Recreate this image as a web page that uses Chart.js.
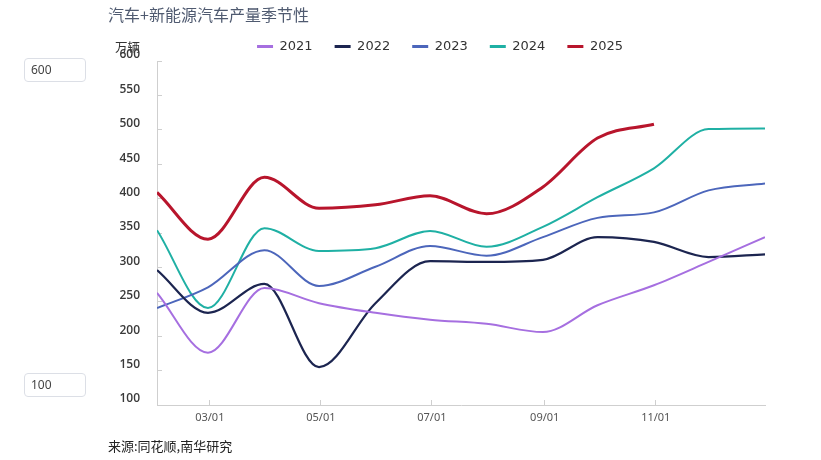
<!DOCTYPE html>
<html>
<head>
<meta charset="utf-8">
<script src="https://cdn.jsdelivr.net/npm/chart.js@4"></script>
<style>
  html, body { margin: 0; padding: 0; background: #fff; }
  #wrap { position: relative; width: 821px; height: 460px; overflow: hidden; }
  #c { position: absolute; left: 0; top: 0; }
  .title { position: absolute; left: 108px; top: 2px; font: 16px "Noto Sans CJK SC"; color: #4f5a70; white-space: nowrap; }
  .unit { position: absolute; left: 115px; top: 37px; font: 12.5px "Noto Sans CJK SC"; color: #333; white-space: nowrap; }
  .src { position: absolute; left: 108px; top: 436px; font: 13px "Noto Sans CJK SC"; color: #222; white-space: nowrap; }
  .inp { position: absolute; left: 24px; width: 62px; height: 24px; box-sizing: border-box; border: 1px solid #dcdfe6; border-radius: 4px; font: 12px "Noto Sans"; color: #444; line-height: 22px; padding-left: 6px; }
</style>
</head>
<body>
<div id="wrap">
  <canvas id="c" width="821" height="460"></canvas>
  <div class="title">汽车+新能源汽车产量季节性</div>
  <div class="unit">万辆</div>
  <div class="inp" style="top:58px">600</div>
  <div class="inp" style="top:373px">100</div>
  <div class="src">来源:同花顺,南华研究</div>
</div>
<script>
// ---- data ----
const categories = ['01/31','02/28','03/31','04/30','05/31','06/30','07/31','08/31','09/30','10/31','11/30','12/31'];
const xTickLabels = ['03/01','05/01','07/01','09/01','11/01'];
const seriesNames = ['2021','2022','2023','2024','2025'];
const v2021 = [263, 176, 270, 248, 234, 224, 218, 206, 245, 274, 308, 344];
const v2022 = [296, 234, 276, 155, 248, 309, 308, 311, 344, 337, 315, 319];
const v2023 = [241, 271, 325, 273, 301, 331, 317, 344, 372, 380, 412, 422];
const v2024 = [354, 241, 357, 324, 328, 353, 330, 359, 402, 444, 501, 502];
const v2025 = [409, 341, 431, 386, 391, 404, 378, 417, 488, 508];
const yMin = 100, yMax = 600, yStep = 50;

// ---- helpers ----
const monthLengths = [31,28,31,30,31,30,31,31,30,31,30,31];
const cumDays = monthLengths.map((_, i) => monthLengths.slice(0, i).reduce((a, b) => a + b, 0));
function dayOfYear(s) { const [m, d] = s.split('/').map(Number); return cumDays[m - 1] + d; }

const styles = {
  '2021': { color: '#a66fe0', width: 2 },
  '2022': { color: '#1c2550', width: 2.2 },
  '2023': { color: '#4c66bb', width: 2 },
  '2024': { color: '#1fb0a4', width: 2 },
  '2025': { color: '#b8152c', width: 3 }
};
const allValues = [v2021, v2022, v2023, v2024, v2025];

const datasets = seriesNames.map((name, i) => ({
  label: name,
  data: allValues[i].map((v, j) => ({ x: dayOfYear(categories[j]), y: v })),
  borderColor: styles[name].color,
  backgroundColor: styles[name].color,
  borderWidth: styles[name].width,
  pointRadius: 0,
  pointHoverRadius: 0,
  cubicInterpolationMode: 'monotone',
  fill: false
}));

const legendFix = {
  id: 'legendFix',
  beforeInit(chart) {
    const lg = chart.legend;
    if (!lg || lg._patched) return;
    const origFit = lg.fit;
    lg.fit = function () { origFit.call(this); this.height = 43; };
    const origDraw = lg.draw;
    lg.draw = function () {
      const ctx = this.ctx;
      ctx.save();
      ctx.translate(4, 0);
      origDraw.call(this);
      ctx.restore();
    };
    lg._patched = true;
  }
};

new Chart(document.getElementById('c'), {
  type: 'line',
  data: { datasets },
  plugins: [legendFix],
  options: {
    responsive: false,
    animation: false,
    layout: { padding: { left: 107, right: 56, top: 18, bottom: 25 } },
    plugins: {
      tooltip: { enabled: false },
      legend: {
        position: 'top',
        align: 'center',
        labels: {
          boxWidth: 16,
          boxHeight: 3,
          padding: 22,
          color: '#333',
          font: { family: 'DejaVu Sans', size: 13 },
          generateLabels: (chart) => Chart.defaults.plugins.legend.labels.generateLabels(chart)
            .map(l => Object.assign({}, l, { lineWidth: 0, fillStyle: l.strokeStyle }))
        }
      }
    },
    scales: {
      x: {
        type: 'linear',
        min: dayOfYear(categories[0]),
        max: dayOfYear(categories[categories.length - 1]),
        afterBuildTicks: (s) => { s.ticks = xTickLabels.map(l => ({ value: dayOfYear(l) })); },
        afterFit: (s) => { s.height = 30; },
        ticks: {
          autoSkip: false,
          maxRotation: 0,
          padding: 11,
          color: '#555',
          font: { family: 'Noto Sans', size: 11 },
          callback: (v, i) => xTickLabels[i]
        },
        grid: { drawOnChartArea: false, tickLength: -5, color: '#cfcfcf' },
        border: { color: '#cfcfcf', width: 1 }
      },
      y: {
        min: yMin,
        max: yMax,
        afterFit: (s) => { s.width = 50; },
        ticks: {
          stepSize: yStep,
          padding: 22,
          labelOffset: -6,
          color: '#3a3a3a',
          font: { family: 'Open Sans', size: 12, weight: '600' }
        },
        grid: { drawOnChartArea: false, tickLength: -5, color: '#cfcfcf' },
        border: { color: '#cfcfcf', width: 1 }
      }
    }
  }
});
</script>
</body>
</html>
